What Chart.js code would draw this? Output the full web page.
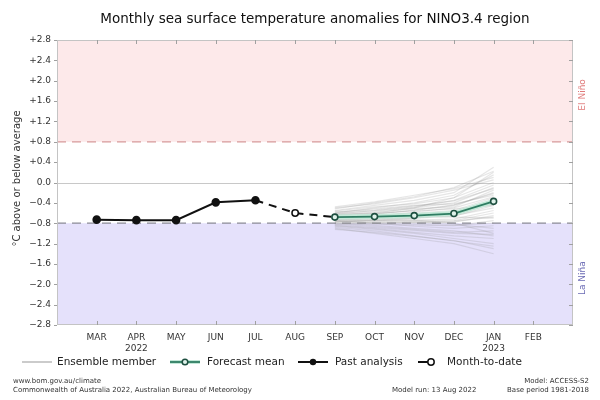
<!DOCTYPE html>
<html>
<head>
<meta charset="utf-8">
<script src="https://cdn.jsdelivr.net/npm/chart.js@4.4.0/dist/chart.umd.min.js"></script>
<style>
  html, body { margin: 0; padding: 0; background: #fff; }
  #wrap { width: 600px; height: 400px; position: relative; }
</style>
</head>
<body>
<div id="wrap"><canvas id="nino" width="600" height="400"></canvas></div>
<script>
// ================= DATA =================
const months = ["MAR","APR","MAY","JUN","JUL","AUG","SEP","OCT","NOV","DEC","JAN","FEB"];
const monthLabels = ["MAR",["APR","2022"],"MAY","JUN","JUL","AUG","SEP","OCT","NOV","DEC",["JAN","2023"],"FEB"];
const yTicks = [2.8,2.4,2.0,1.6,1.2,0.8,0.4,0.0,-0.4,-0.8,-1.2,-1.6,-2.0,-2.4,-2.8];

const pastMonths = ["MAR","APR","MAY","JUN","JUL"];
const pastAnalysis = [-0.73,-0.74,-0.74,-0.39,-0.35];

const mtdMonth = "AUG";
const monthToDate = -0.60;

const forecastMonths = ["SEP","OCT","NOV","DEC","JAN"];
const forecastMean = [-0.68,-0.67,-0.65,-0.61,-0.37];

// ensemble members, SEP..JAN
const ensemble = [
  [-0.55,-0.45,-0.35,-0.20, 0.30],
  [-0.60,-0.50,-0.40,-0.25, 0.15],
  [-0.50,-0.42,-0.30,-0.15, 0.05],
  [-0.62,-0.55,-0.48,-0.35,-0.05],
  [-0.65,-0.60,-0.50,-0.40,-0.10],
  [-0.70,-0.62,-0.55,-0.45,-0.20],
  [-0.58,-0.52,-0.45,-0.42,-0.25],
  [-0.68,-0.65,-0.60,-0.55,-0.30],
  [-0.72,-0.70,-0.65,-0.58,-0.35],
  [-0.66,-0.64,-0.62,-0.60,-0.40],
  [-0.74,-0.72,-0.70,-0.66,-0.45],
  [-0.70,-0.68,-0.68,-0.65,-0.50],
  [-0.76,-0.75,-0.74,-0.72,-0.55],
  [-0.72,-0.74,-0.76,-0.75,-0.60],
  [-0.78,-0.78,-0.80,-0.78,-0.65],
  [-0.80,-0.82,-0.84,-0.85,-0.75],
  [-0.75,-0.80,-0.86,-0.90,-0.85],
  [-0.82,-0.86,-0.92,-0.98,-0.95],
  [-0.85,-0.90,-0.98,-1.05,-1.10],
  [-0.88,-0.95,-1.05,-1.15,-1.25],
  [-0.90,-1.00,-1.10,-1.20,-1.40],
  [-0.64,-0.58,-0.52,-0.48,-0.15],
  [-0.60,-0.56,-0.50,-0.30, 0.00],
  [-0.68,-0.66,-0.66,-0.68,-0.70],
  [-0.78,-0.74,-0.70,-0.62,-0.42],
  [-0.56,-0.48,-0.42,-0.30, 0.20],
  [-0.74,-0.76,-0.78,-0.82,-0.90],
  [-0.80,-0.84,-0.90,-0.95,-1.05],
  [-0.70,-0.66,-0.58,-0.50,-0.28],
  [-0.66,-0.70,-0.74,-0.80,-1.00],
  [-0.62,-0.60,-0.56,-0.52,-0.45],
  [-0.86,-0.92,-1.00,-1.10,-1.20],
  [-0.52,-0.40,-0.28,-0.10, 0.22],
  [-0.64,-0.62,-0.54,-0.44,-0.22],
  [-0.76,-0.80,-0.82,-0.84,-0.80],
  [-0.84,-0.88,-0.94,-1.00,-1.02],
  [-0.48,-0.38,-0.25,-0.12, 0.10],
  [-0.92,-0.98,-1.06,-1.14,-1.30],
  [-0.58,-0.54,-0.46,-0.36,-0.12],
  [-0.82,-0.80,-0.78,-0.76,-0.68]
];

const elNinoThreshold = 0.8;
const laNinaThreshold = -0.8;

// ================= HELPERS =================
const mi = m => months.indexOf(m);
const pts = (ms, vs) => ms.map((m, i) => ({ x: mi(m), y: vs[i] }));

function fmtY(v) {
  const r = Math.round(v * 10) / 10;
  if (r === 0) return "0.0";
  return (r > 0 ? "+" : "\u2212") + Math.abs(r).toFixed(1);
}

const FONT = "'DejaVu Sans', sans-serif";

// ================= PLUGIN FONDO =================
const bandsPlugin = {
  id: "bands",
  beforeDatasetsDraw(chart) {
    const { ctx, chartArea: a, scales: { y } } = chart;
    const yTop = y.getPixelForValue(elNinoThreshold);
    const yBot = y.getPixelForValue(laNinaThreshold);
    const y0 = y.getPixelForValue(0);
    ctx.save();
    ctx.fillStyle = "#fde9ea";
    ctx.fillRect(a.left, a.top, a.width, yTop - a.top);
    ctx.fillStyle = "#e5e1fb";
    ctx.fillRect(a.left, yBot, a.width, a.bottom - yBot);

    ctx.strokeStyle = "#c8c8c8";
    ctx.lineWidth = 1;
    ctx.beginPath();
    ctx.moveTo(a.left, Math.round(y0) + 0.5);
    ctx.lineTo(a.right, Math.round(y0) + 0.5);
    ctx.stroke();

    ctx.setLineDash([9, 6]);
    ctx.lineWidth = 1.3;
    ctx.strokeStyle = "#d89a9a";
    ctx.beginPath();
    ctx.moveTo(a.left, yTop);
    ctx.lineTo(a.right, yTop);
    ctx.stroke();
    ctx.strokeStyle = "#8a8a96";
    ctx.beginPath();
    ctx.moveTo(a.left, yBot);
    ctx.lineTo(a.right, yBot);
    ctx.stroke();
    ctx.restore();
  },
  afterDraw(chart) {
    const { ctx, chartArea: a, scales: { x, y } } = chart;
    ctx.save();
    // frame
    ctx.strokeStyle = "#c4c4c4";
    ctx.lineWidth = 1;
    ctx.strokeRect(a.left + 0.5, a.top + 0.5, a.width - 1, a.height - 1);

    // inside ticks
    ctx.strokeStyle = "#a0a0a0";
    months.forEach((m, i) => {
      const px = Math.round(x.getPixelForValue(i)) + 0.5;
      ctx.beginPath();
      ctx.moveTo(px, a.bottom); ctx.lineTo(px, a.bottom - 4);
      ctx.moveTo(px, a.top); ctx.lineTo(px, a.top + 4);
      ctx.stroke();
    });
    yTicks.forEach(v => {
      const py = Math.round(y.getPixelForValue(v)) + 0.5;
      ctx.beginPath();
      ctx.moveTo(a.right, py); ctx.lineTo(a.right - 4, py);
      ctx.moveTo(a.left, py); ctx.lineTo(a.left - 3, py);
      ctx.stroke();
    });

    // title
    ctx.fillStyle = "#111";
    ctx.font = "13.5px " + FONT;
    ctx.textAlign = "center";
    ctx.textBaseline = "middle";
    ctx.fillText("Monthly sea surface temperature anomalies for NINO3.4 region", 315, 19);

    // y axis title
    ctx.save();
    ctx.translate(17, (a.top + a.bottom) / 2 - 4);
    ctx.rotate(-Math.PI / 2);
    ctx.font = "10px " + FONT;
    ctx.fillStyle = "#333";
    ctx.fillText("°C above or below average", 0, 0);
    ctx.restore();

    // El Niño / La Niña
    ctx.font = "9px " + FONT;
    ctx.save();
    ctx.translate(583, (a.top + y.getPixelForValue(elNinoThreshold)) / 2 + 4);
    ctx.rotate(-Math.PI / 2);
    ctx.fillStyle = "#e07a7a";
    ctx.fillText("El Niño", 0, 0);
    ctx.restore();
    ctx.save();
    ctx.translate(583, (a.bottom + y.getPixelForValue(laNinaThreshold)) / 2 + 4);
    ctx.rotate(-Math.PI / 2);
    ctx.fillStyle = "#6a6ab4";
    ctx.fillText("La Niña", 0, 0);
    ctx.restore();

    // legend
    const ly = 362;
    ctx.font = "10.5px " + FONT;
    ctx.textAlign = "left";
    ctx.fillStyle = "#222";
    ctx.lineWidth = 1.2;
    ctx.strokeStyle = "#a8a8a8";
    ctx.beginPath(); ctx.moveTo(22, ly); ctx.lineTo(52, ly); ctx.stroke();
    ctx.fillText("Ensemble member", 57, ly);

    ctx.strokeStyle = "#c4e8d8"; ctx.lineWidth = 4;
    ctx.beginPath(); ctx.moveTo(170, ly); ctx.lineTo(200, ly); ctx.stroke();
    ctx.strokeStyle = "#2f7d62"; ctx.lineWidth = 1.8;
    ctx.beginPath(); ctx.moveTo(170, ly); ctx.lineTo(200, ly); ctx.stroke();
    ctx.fillStyle = "#dff2ea"; ctx.strokeStyle = "#1e4f40"; ctx.lineWidth = 1.5;
    ctx.beginPath(); ctx.arc(185, ly, 2.8, 0, Math.PI * 2); ctx.fill(); ctx.stroke();
    ctx.fillStyle = "#222";
    ctx.fillText("Forecast mean", 207, ly);

    ctx.strokeStyle = "#111"; ctx.lineWidth = 2;
    ctx.beginPath(); ctx.moveTo(298, ly); ctx.lineTo(328, ly); ctx.stroke();
    ctx.fillStyle = "#111";
    ctx.beginPath(); ctx.arc(313, ly, 3.2, 0, Math.PI * 2); ctx.fill();
    ctx.fillStyle = "#222";
    ctx.fillText("Past analysis", 335, ly);

    ctx.strokeStyle = "#111"; ctx.lineWidth = 2;
    ctx.beginPath(); ctx.moveTo(418, ly); ctx.lineTo(428, ly); ctx.stroke();
    ctx.fillStyle = "#fff"; ctx.lineWidth = 1.5;
    ctx.beginPath(); ctx.arc(431, ly, 3.2, 0, Math.PI * 2); ctx.fill(); ctx.stroke();
    ctx.fillStyle = "#222";
    ctx.fillText("Month-to-date", 447, ly);

    // footer
    ctx.font = "7px " + FONT;
    ctx.fillStyle = "#333";
    ctx.fillText("www.bom.gov.au/climate", 13, 381);
    ctx.fillText("Commonwealth of Australia 2022, Australian Bureau of Meteorology", 13, 390);
    ctx.fillText("Model run: 13 Aug 2022", 392, 390);
    ctx.textAlign = "right";
    ctx.fillText("Model: ACCESS-S2", 589, 381);
    ctx.fillText("Base period 1981-2018", 589, 390);
    ctx.restore();
  }
};

// ================= DATASETS =================
const ensembleSets = ensemble.map(vals => ({
  data: pts(forecastMonths, vals),
  borderColor: "rgba(140,140,140,0.22)",
  borderWidth: 1.2,
  pointRadius: 0,
  order: 5
}));

const connector = [
  { x: mi(pastMonths[pastMonths.length - 1]), y: pastAnalysis[pastAnalysis.length - 1] },
  { x: mi(mtdMonth), y: monthToDate },
  { x: mi(forecastMonths[0]), y: forecastMean[0] }
];

const datasets = [
  ...ensembleSets,
  {
    data: pts(forecastMonths, forecastMean),
    borderColor: "#c4e8d8",
    borderWidth: 5,
    pointRadius: 0,
    order: 4
  },
  {
    data: pts(forecastMonths, forecastMean),
    borderColor: "#2f7d62",
    borderWidth: 1.8,
    pointRadius: 3,
    pointBackgroundColor: "#dff2ea",
    pointBorderColor: "#1e4f40",
    pointBorderWidth: 1.6,
    order: 1
  },
  {
    data: connector,
    borderColor: "#111",
    borderWidth: 2,
    borderDash: [8, 6],
    pointRadius: 0,
    order: 3
  },
  {
    data: [{ x: mi(mtdMonth), y: monthToDate }],
    showLine: false,
    pointRadius: 3.2,
    pointBackgroundColor: "#fff",
    pointBorderColor: "#111",
    pointBorderWidth: 1.5,
    order: 2
  },
  {
    data: pts(pastMonths, pastAnalysis),
    borderColor: "#111",
    borderWidth: 2,
    pointRadius: 3.3,
    pointBackgroundColor: "#111",
    pointBorderColor: "#111",
    order: 2
  }
];

// ================= CHART =================
new Chart(document.getElementById("nino"), {
  type: "line",
  data: { datasets },
  plugins: [bandsPlugin],
  options: {
    responsive: false,
    animation: false,
    layout: { padding: { top: 40, right: 27, left: 0, bottom: 0 } },
    plugins: { legend: { display: false }, tooltip: { enabled: false } },
    scales: {
      x: {
        type: "linear",
        min: -1,
        max: 12,
        afterFit: s => { s.height = 75; },
        afterBuildTicks: s => { s.ticks = months.map((m, i) => ({ value: i })); },
        grid: { display: false, drawTicks: false },
        border: { display: false },
        ticks: {
          padding: 7,
          color: "#333",
          font: { family: FONT, size: 9 },
          callback: v => monthLabels[v] ?? ""
        }
      },
      y: {
        min: -2.8,
        max: 2.8,
        afterFit: s => { s.width = 57; },
        afterBuildTicks: s => { s.ticks = yTicks.map(v => ({ value: v })); },
        grid: { display: false, drawTicks: false },
        border: { display: false },
        ticks: {
          padding: 6,
          color: "#333",
          font: { family: FONT, size: 9 },
          callback: v => fmtY(v)
        }
      }
    }
  }
});
</script>
</body>
</html>
